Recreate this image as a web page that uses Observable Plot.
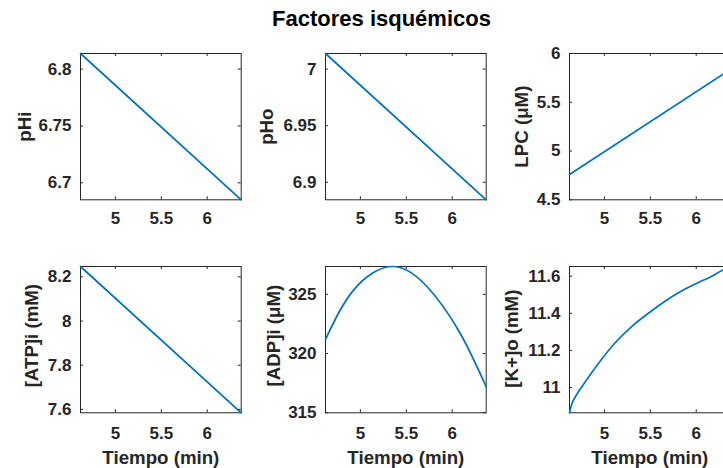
<!DOCTYPE html>
<html>
<head>
<meta charset="utf-8">
<script src="https://cdn.jsdelivr.net/npm/d3@7"></script>
<script src="https://cdn.jsdelivr.net/npm/@observablehq/plot@0.6"></script>
<style>
  html, body { margin: 0; padding: 0; background: #fff; }
  body { width: 723px; height: 468px; overflow: hidden; position: relative;
         font-family: "Liberation Sans", Arial, Helvetica, sans-serif; }
  #title { position: absolute; left: 0; width: 763px; text-align: center; top: 8px;
           font-size: 22px; font-weight: bold; line-height: 1; color: #000; }
  .panel { position: absolute; }
</style>
</head>
<body>
<div id="title">Factores isquémicos</div>
<div id="chart"></div>
<script>
// ---- data ----
const title = "Factores isquémicos";
const xLabel = "Tiempo (min)";
const xTicks = [5, 5.5, 6];
const xDomain = [4.62, 6.37];

const tLine = [4.62, 6.37];
const pHiValues = [6.8137, 6.6851];
const pHoValues = [7.0138, 6.8845];
const lpcValues = [4.76, 5.835];
const atpValues = [8.247, 7.5846];

const adpTime = [4.62, 4.93, 5.34, 5.72, 6.08, 6.37];
const adpValues = [321.2, 325.4, 327.35, 325.7, 321.8, 317.2];

const kTime = [4.62, 4.646, 4.68, 4.79, 4.935, 5.115, 5.30, 5.48, 5.66, 5.84, 6.02, 6.17, 6.28, 6.37];
const kValues = [10.864, 10.913, 10.947, 11.03, 11.13, 11.24, 11.33, 11.40, 11.465, 11.52, 11.565, 11.60, 11.63, 11.652];

const yLabels = ["pHi", "pHo", "LPC (\u03BCM)", "[ATP]i (mM)", "[ADP]i (\u03BCM)", "[K+]o (mM)"];
const yTicks = [
  [6.7, 6.75, 6.8],
  [6.9, 6.95, 7],
  [4.5, 5, 5.5, 6],
  [7.6, 7.8, 8, 8.2],
  [315, 320, 325],
  [11, 11.2, 11.4, 11.6]
];
const yDomains = [
  [6.6851, 6.8137],
  [6.8845, 7.0138],
  [4.5, 6],
  [7.5846, 8.247],
  [315, 327.35],
  [10.864, 11.652]
];
const series = [
  {t: tLine, v: pHiValues, curve: "linear"},
  {t: tLine, v: pHoValues, curve: "linear"},
  {t: tLine, v: lpcValues, curve: "linear"},
  {t: tLine, v: atpValues, curve: "linear"},
  {t: adpTime, v: adpValues, curve: "natural"},
  {t: kTime, v: kValues, curve: "monotone-x"}
];

// ---- layout ----
const colLeft = [80, 324.6, 569.3];
const rowTop = [52.7, 265.5];
const fw = 160.7, fh = 146.3;
const ML = 80, MR = 10, MT = 10, MB = 60;
const yLabelDx = [-55.5, -58, -47.5, -48, -51, -57];
const yLabelDy = [0, 0, 0, -4, -4, -1];
const xPad = [12.5, 12.5, 12.5, 14, 14, 14];
const axisColor = "#262626";
const lineColor = "#0072BD";
const tickLen = 3;

document.getElementById("title").textContent = title;
const chart = document.getElementById("chart");

for (let i = 0; i < 6; i++) {
  const row = Math.floor(i / 3), col = i % 3;
  const data = series[i].t.map((t, j) => ({t, v: series[i].v[j]}));
  const marks = [
    Plot.frame({stroke: axisColor, strokeWidth: 1}),
    Plot.tickX(xTicks, {x: d => d, insetTop: fh - tickLen, stroke: axisColor}),
    Plot.tickX(xTicks, {x: d => d, insetBottom: fh - tickLen, stroke: axisColor}),
    Plot.tickY(yTicks[i], {y: d => d, insetRight: fw - tickLen, stroke: axisColor}),
    Plot.tickY(yTicks[i], {y: d => d, insetLeft: fw - tickLen, stroke: axisColor}),
    Plot.axisX(xTicks, {tickSize: 0, tickPadding: xPad[i], tickFormat: d => String(d), label: null}),
    Plot.axisY(yTicks[i], {tickSize: 0, tickPadding: 9, tickFormat: d => String(d), label: null}),
    Plot.line(data, {x: "t", y: "v", stroke: lineColor, strokeWidth: 1.7, curve: series[i].curve}),
    Plot.text([yLabels[i]], {text: d => d, frameAnchor: "left", rotate: -90, dx: yLabelDx[i], dy: yLabelDy[i],
      fontSize: 18.7, fontWeight: "bold", fill: axisColor, textAnchor: "middle"})
  ];
  if (row === 1) {
    marks.push(Plot.text([xLabel], {text: d => d, frameAnchor: "bottom", dy: 45,
      fontSize: 18.7, fontWeight: "bold", fill: axisColor, textAnchor: "middle", lineAnchor: "middle"}));
  }
  const p = Plot.plot({
    width: ML + fw + MR,
    height: MT + fh + MB,
    marginLeft: ML, marginRight: MR, marginTop: MT, marginBottom: MB,
    x: {domain: xDomain},
    y: {domain: yDomains[i]},
    style: {fontFamily: "'Liberation Sans', Arial, Helvetica, sans-serif", fontSize: "17px",
            fontWeight: "bold", color: axisColor, background: "transparent", overflow: "visible"},
    marks
  });
  p.classList.add("panel");
  p.style.left = (colLeft[col] - ML) + "px";
  p.style.top = (rowTop[row] - MT) + "px";
  chart.appendChild(p);
}
</script>
</body>
</html>
